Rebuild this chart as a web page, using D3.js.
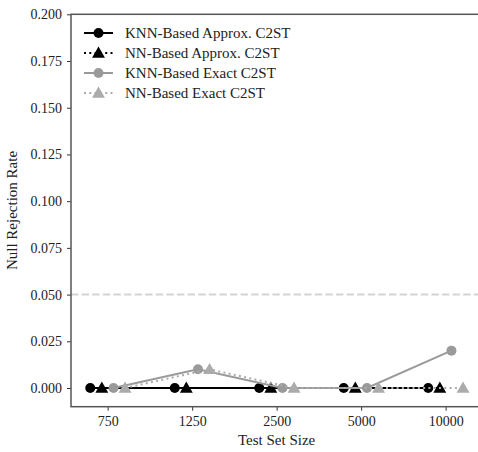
<!DOCTYPE html>
<html>
<head>
<meta charset="utf-8">
<script src="https://cdn.jsdelivr.net/npm/d3@7"></script>
<style>
  body { margin: 0; background: #fff; }
  svg { display: block; font-family: "Liberation Serif", "DejaVu Serif", serif; }
  svg text { font-family: "Liberation Serif", "DejaVu Serif", serif; }
</style>
</head>
<body>
<div id="root"></div>
<script>
const sizes = ["750", "1250", "2500", "5000", "10000"];
const knnApprox = [0, 0, 0, 0, 0];
const nnApprox = [0, 0, 0, 0, 0];
const knnExact = [0, 0.010, 0, 0, 0.020];
const nnExact = [0, 0.010, 0, 0, 0];
const yTicks = [0, 0.025, 0.05, 0.075, 0.1, 0.125, 0.15, 0.175, 0.2];
const refLine = 0.05;

const series = [
  { name: "KNN-Based Approx. C2ST", values: knnApprox, color: "#000", marker: "circle", dash: null, shift: -0.206 },
  { name: "NN-Based Approx. C2ST", values: nnApprox, color: "#000", marker: "triangle", dash: "2,3.3", shift: -0.069 },
  { name: "KNN-Based Exact C2ST", values: knnExact, color: "#9a9a9a", marker: "circle", dash: null, shift: 0.069 },
  { name: "NN-Based Exact C2ST", values: nnExact, color: "#ababab", marker: "triangle", dash: "2,3.3", shift: 0.206 }
];

const outerWidth = 478;
const outerHeight = 452;
const margin = { top: 14.3, left: 71 };
const plotRight = 482.3;
const plotBottom = 406.7;

let svg = d3.select("#root")
            .append("svg")
            .attr("width", outerWidth)
            .attr("height", outerHeight);

let scaleX = d3.scaleLinear().domain([-0.434, sizes.length - 1 + 0.434]).range([margin.left, plotRight]);
let scaleY = d3.scaleLinear().domain([-0.01, 0.2]).range([plotBottom, margin.top]);

// reference line
svg.append("line")
   .attr("x1", margin.left).attr("x2", plotRight)
   .attr("y1", scaleY(refLine)).attr("y2", scaleY(refLine))
   .attr("stroke", "#d3d3d3")
   .attr("stroke-width", 2)
   .attr("stroke-dasharray", "7.4,3.2");

const symbolFor = m => m === "circle"
  ? d3.symbol().type(d3.symbolCircle).size(78)()
  : d3.symbol().type(d3.symbolTriangle).size(72)();

series.forEach(s => {
  let pts = s.values.map((v, i) => [scaleX(i + s.shift), scaleY(v)]);
  svg.append("path")
     .attr("d", d3.line()(pts))
     .attr("fill", "none")
     .attr("stroke", s.color)
     .attr("stroke-width", 2)
     .attr("stroke-dasharray", s.dash);
  svg.selectAll(null)
     .data(pts)
     .enter().append("path")
     .attr("d", symbolFor(s.marker))
     .attr("transform", d => `translate(${d[0]}, ${d[1] + (s.marker === "triangle" ? 1 : 0)})`)
     .attr("fill", s.color);
});

// axes
let yAxis = d3.axisLeft(scaleY).tickValues(yTicks).tickFormat(d3.format(".3f")).tickSize(4).tickPadding(5);
let xAxis = d3.axisBottom(scaleX).tickValues(d3.range(sizes.length)).tickFormat(i => sizes[i]).tickSize(4).tickPadding(5);

let gy = svg.append("g").attr("transform", `translate(${margin.left}, 0)`).call(yAxis);
let gx = svg.append("g").attr("transform", `translate(0, ${plotBottom})`).call(xAxis);
[gx, gy].forEach(g => {
  g.attr("font-family", "Liberation Serif").attr("font-size", 14);
  g.select(".domain").remove();
  g.selectAll(".tick line").attr("stroke", "#333").attr("stroke-width", 1);
  g.selectAll(".tick text").attr("fill", "#222");
});

// frame
svg.append("rect")
   .attr("x", margin.left).attr("y", margin.top)
   .attr("width", plotRight - margin.left).attr("height", plotBottom - margin.top)
   .attr("fill", "none")
   .attr("stroke", "#555")
   .attr("stroke-width", 1.5);

// labels
svg.append("text")
   .attr("x", (margin.left + plotRight) / 2)
   .attr("y", 445)
   .attr("text-anchor", "middle")
   .style("font-size", "15px")
   .attr("fill", "#222")
   .text("Test Set Size");

svg.append("text")
   .attr("transform", `translate(17, ${(margin.top + plotBottom) / 2}) rotate(-90)`)
   .attr("text-anchor", "middle")
   .style("font-size", "15px")
   .attr("fill", "#222")
   .text("Null Rejection Rate");

// legend
let legend = svg.append("g");
series.forEach((s, i) => {
  let y = 33 + i * 20;
  legend.append("line")
        .attr("x1", 84).attr("x2", 113)
        .attr("y1", y).attr("y2", y)
        .attr("stroke", s.color)
        .attr("stroke-width", 2)
        .attr("stroke-dasharray", s.dash);
  legend.append("path")
        .attr("d", symbolFor(s.marker))
        .attr("transform", `translate(98.5, ${y + (s.marker === "triangle" ? 1 : 0)})`)
        .attr("fill", s.color);
  legend.append("text")
        .attr("x", 125)
        .attr("y", y)
        .attr("dy", "0.35em")
        .style("font-size", "15px")
        .attr("fill", "#222")
        .text(s.name);
});
</script>
</body>
</html>
